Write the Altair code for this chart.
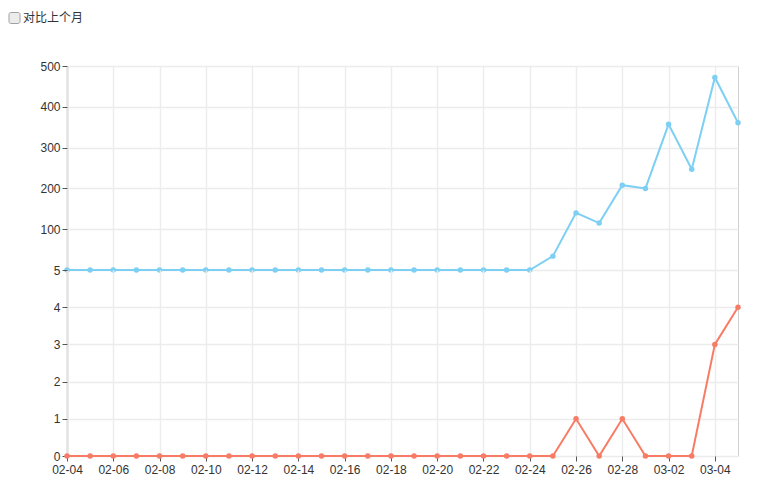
import altair as alt
import pandas as pd

dates = ["02-04", "02-05", "02-06", "02-07", "02-08", "02-09", "02-10", "02-11",
         "02-12", "02-13", "02-14", "02-15", "02-16", "02-17", "02-18", "02-19",
         "02-20", "02-21", "02-22", "02-23", "02-24", "02-25", "02-26", "02-27",
         "02-28", "03-01", "03-02", "03-03", "03-04", "03-05"]
x_labels = ["02-04", "02-06", "02-08", "02-10", "02-12", "02-14", "02-16", "02-18",
            "02-20", "02-22", "02-24", "02-26", "02-28", "03-02", "03-04"]
x_edge = ["03-05"]
blue_values = [0, 0, 0, 0, 0, 0, 0, 0, 0, 0, 0, 0, 0, 0, 0, 0, 0, 0, 0, 0, 0,
               34, 140, 115, 208, 200, 357, 247, 472, 361]
red_values = [0, 0, 0, 0, 0, 0, 0, 0, 0, 0, 0, 0, 0, 0, 0, 0, 0, 0, 0, 0, 0, 0,
              1, 0, 1, 0, 0, 0, 3, 4]
top_ticks = [0, 100, 200, 300, 400, 500]
bottom_ticks = [0, 1, 2, 3, 4, 5]
header_label = ["对比上个月"]

BLUE = "#7dd0f3"
RED = "#f87c65"
W = 671
FONT = "Liberation Sans"
GRID = "#ececec"
EDGE = "#d0d0d0"
LEFT = "#e2e2e2"

df_top = pd.DataFrame({"date": dates, "value": blue_values})
df_bot = pd.DataFrame({"date": dates, "value": red_values})
xscale = alt.Scale(type="point", padding=0, domain=dates)

edge_test = "datum.value === '03-05'"
left_test = "datum.value === '02-04'"
x_grid_color = {"condition": [{"test": edge_test, "value": EDGE},
                              {"test": left_test, "value": LEFT}], "value": GRID}
x_grid_width = {"condition": [{"test": edge_test, "value": 1},
                              {"test": left_test, "value": 2.5}], "value": 1.5}

top = alt.Chart(df_top).mark_line(
    color=BLUE, strokeWidth=2,
    point=alt.OverlayMarkDef(filled=True, size=30, color=BLUE, opacity=1)
).encode(
    x=alt.X("date:N", scale=xscale, sort=dates,
            axis=alt.Axis(values=x_labels + x_edge, labels=False, ticks=False,
                          domain=False, grid=True, title=None,
                          gridColor=x_grid_color, gridWidth=x_grid_width)),
    y=alt.Y("value:Q", scale=alt.Scale(domain=[0, 500], nice=False),
            axis=alt.Axis(values=top_ticks, title=None, domain=False, grid=True,
                          labelExpr="datum.value === 0 ? '' : datum.label",
                          tickOpacity={"condition": {"test": "datum.value === 0", "value": 0}, "value": 1})),
).properties(width=W, height=204)

bottom = alt.Chart(df_bot).mark_line(
    color=RED, strokeWidth=2,
    point=alt.OverlayMarkDef(filled=True, size=30, color=RED, opacity=1)
).encode(
    x=alt.X("date:N", scale=xscale, sort=dates,
            axis=alt.Axis(values=x_labels + x_edge, labelAngle=0, domain=False,
                          grid=True, title=None, labelPadding=3,
                          gridColor=x_grid_color, gridWidth=x_grid_width,
                          labelExpr="datum.value === '03-05' ? '' : datum.label",
                          tickOpacity={"condition": {"test": edge_test, "value": 0}, "value": 1})),
    y=alt.Y("value:Q", scale=alt.Scale(domain=[0, 5], nice=False),
            axis=alt.Axis(values=bottom_ticks, title=None, domain=False, grid=True,
                          format="d",
                          gridOpacity={"condition": {"test": "datum.value === 5", "value": 0}, "value": 1})),
).properties(width=W, height=186)

hdr_df = pd.DataFrame({"label": header_label})
box = alt.Chart(hdr_df).mark_rect(
    fill="#ececec", stroke="#a0a0a0", strokeWidth=1, cornerRadius=2
).encode(x=alt.value(-58), x2=alt.value(-47), y=alt.value(3.5), y2=alt.value(14.5))
txt = alt.Chart(hdr_df).mark_text(
    align="left", baseline="middle", fontSize=12, font="Noto Sans CJK SC", color="#333"
).encode(x=alt.value(-44), y=alt.value(9), text="label:N")
header = alt.layer(box, txt).properties(width=W, height=57)

chart = alt.vconcat(header, top, bottom, spacing=0, bounds="flush").properties(
    padding=0
).configure_view(
    stroke="transparent"
).configure_axis(
    labelFont=FONT, labelFontSize=12, labelColor="#333",
    tickColor="#555", tickSize=5, gridWidth=1.5, gridColor=GRID
)

chart.save("out.html", embed_options={"renderer": "svg", "actions": False})
